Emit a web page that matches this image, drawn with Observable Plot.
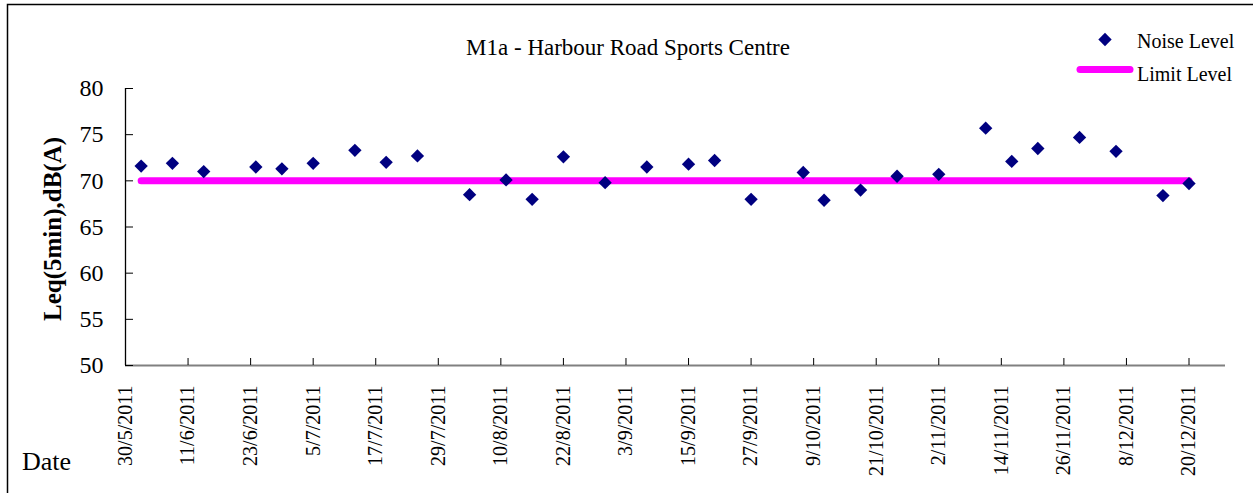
<!DOCTYPE html>
<html>
<head>
<meta charset="utf-8">
<script src="https://cdn.jsdelivr.net/npm/d3@7"></script>
<script src="https://cdn.jsdelivr.net/npm/@observablehq/plot@0.6"></script>
<style>
  html, body { margin: 0; padding: 0; background: #fff; }
  #chart { position: relative; width: 1253px; height: 493px; overflow: hidden; }
</style>
</head>
<body>
<div id="chart"></div>
<script>
// ---- data ----
const measureDates = [
  "2/6/2011", "8/6/2011", "14/6/2011", "24/6/2011", "29/6/2011", "5/7/2011",
  "13/7/2011", "19/7/2011", "25/7/2011", "4/8/2011", "11/8/2011", "16/8/2011",
  "22/8/2011", "30/8/2011", "7/9/2011", "15/9/2011", "20/9/2011", "27/9/2011",
  "7/10/2011", "11/10/2011", "18/10/2011", "25/10/2011", "2/11/2011", "11/11/2011",
  "16/11/2011", "21/11/2011", "29/11/2011", "6/12/2011", "15/12/2011", "20/12/2011"
];
const noiseLevels = [
  71.6, 71.9, 71.0, 71.5, 71.3, 71.9,
  73.3, 72.0, 72.7, 68.5, 70.1, 68.0,
  72.6, 69.8, 71.5, 71.8, 72.2, 68.0,
  70.9, 67.9, 69.0, 70.5, 70.7, 75.7,
  72.1, 73.5, 74.7, 73.2, 68.4, 69.7
];
const limitLevel = 70;
const xTickLabels = [
  "30/5/2011", "11/6/2011", "23/6/2011", "5/7/2011", "17/7/2011", "29/7/2011",
  "10/8/2011", "22/8/2011", "3/9/2011", "15/9/2011", "27/9/2011", "9/10/2011",
  "21/10/2011", "2/11/2011", "14/11/2011", "26/11/2011", "8/12/2011", "20/12/2011"
];
const xDomainLabels = ["30/5/2011", "27/12/2011"];
const yTicks = [50, 55, 60, 65, 70, 75, 80];
const yDomain = [50, 80];
const titleText = "M1a - Harbour Road Sports Centre";
const yLabelText = "Leq(5min),dB(A)";
const xLabelText = "Date";
const seriesNames = ["Noise Level", "Limit Level"];

// ---- helpers ----
const parseDMY = s => { const [d, m, y] = s.split("/").map(Number); return new Date(Date.UTC(y, m - 1, d)); };
const fmtDMY = d => `${d.getUTCDate()}/${d.getUTCMonth() + 1}/${d.getUTCFullYear()}`;

const noiseData = measureDates.map((s, i) => ({date: parseDMY(s), value: noiseLevels[i]}));
const limitData = [
  {date: noiseData[0].date, value: limitLevel},
  {date: noiseData[noiseData.length - 1].date, value: limitLevel}
];
const xTicks = xTickLabels.map(parseDMY);
const xDomain = xDomainLabels.map(parseDMY);

const W = 1253, H = 493;
const NAVY = "#000080", MAGENTA = "#ff00ff";
const FONT = "'Liberation Serif', 'Times New Roman', serif";

const chart = Plot.plot({
  width: W,
  height: H,
  marginLeft: 125,
  marginRight: 28,
  marginTop: 88,
  marginBottom: 128,
  style: {fontFamily: FONT, fontSize: "20px", color: "#000", background: "#fff", overflow: "visible"},
  x: {type: "utc", domain: xDomain},
  y: {domain: yDomain},
  marks: [
    Plot.ruleY([yDomain[0]], {stroke: "#808080", strokeWidth: 2}),
    Plot.ruleX([xDomain[0]], {stroke: "#000", strokeWidth: 1.3}),
    Plot.axisY({ticks: yTicks, tickSize: -8, tickPadding: 30, fontSize: 24, label: null, tickFormat: d => String(d), stroke: "#000"}),
    Plot.axisX({ticks: xTicks, tickSize: -7, tickPadding: 27, tickRotate: -90, fontSize: 20, label: null, tickFormat: fmtDMY, stroke: "#000"}),
    Plot.line(limitData, {x: "date", y: "value", stroke: MAGENTA, strokeWidth: 7, strokeLinecap: "round"}),
    Plot.dot(noiseData, {x: "date", y: "value", symbol: "diamond2", r: 6, fill: NAVY, stroke: null})
  ]
});

document.getElementById("chart").appendChild(chart);

// ---- decorations: border, title, axis titles, legend ----
const svg = d3.select(chart);
svg.append("path")
  .attr("d", `M7.5,${H} V4.5 H${W}`)
  .attr("fill", "none").attr("stroke", "#000").attr("stroke-width", 1.5);

svg.append("text")
  .attr("x", 628).attr("y", 55)
  .attr("text-anchor", "middle")
  .attr("font-family", FONT).attr("font-size", 23).attr("fill", "#000")
  .text(titleText);

svg.append("text")
  .attr("transform", "translate(61,229) rotate(-90)")
  .attr("text-anchor", "middle")
  .attr("font-family", FONT).attr("font-size", 25).attr("font-weight", "bold").attr("fill", "#000")
  .text(yLabelText);

svg.append("text")
  .attr("x", 22).attr("y", 470)
  .attr("text-anchor", "start")
  .attr("font-family", FONT).attr("font-size", 26).attr("fill", "#000")
  .text(xLabelText);

const lg = svg.append("g");
lg.append("path")
  .attr("transform", "translate(1105,39.5)")
  .attr("d", d3.symbol(d3.symbolDiamond2, 6 * 6 * Math.PI)())
  .attr("fill", NAVY);
lg.append("text")
  .attr("x", 1137).attr("y", 48)
  .attr("text-anchor", "start")
  .attr("font-family", FONT).attr("font-size", 20).attr("fill", "#000")
  .text(seriesNames[0]);
lg.append("line")
  .attr("x1", 1080).attr("x2", 1130).attr("y1", 69.5).attr("y2", 69.5)
  .attr("stroke", MAGENTA).attr("stroke-width", 7).attr("stroke-linecap", "round");
lg.append("text")
  .attr("x", 1137).attr("y", 81)
  .attr("text-anchor", "start")
  .attr("font-family", FONT).attr("font-size", 20).attr("fill", "#000")
  .text(seriesNames[1]);
</script>
</body>
</html>
